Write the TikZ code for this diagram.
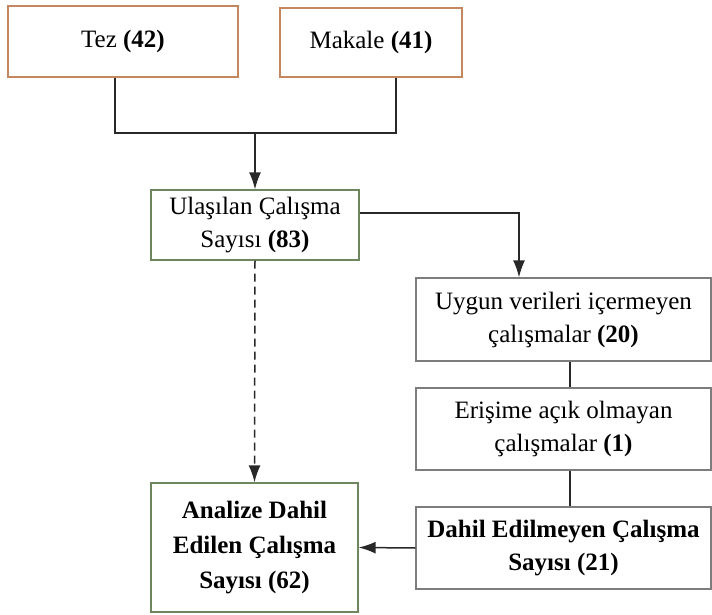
\documentclass[tikz,border=0pt]{standalone}
\usepackage{fontspec}
\setmainfont{Liberation Serif}
\usetikzlibrary{arrows.meta}
\definecolor{orangeb}{RGB}{196,136,96}
\definecolor{greenb}{RGB}{110,135,95}
\definecolor{grayb}{RGB}{125,125,125}
\definecolor{lineC}{RGB}{40,40,40}
\begin{document}
\begin{tikzpicture}[x=1pt,y=-1pt,
  box/.style={draw, line width=1.3pt, fill=white, align=center, inner sep=2pt, font=\fontsize{25}{33}\selectfont},
  conn/.style={draw=lineC, line width=1.5pt},
  arr/.style={conn, -{Latex[length=17pt,width=12pt]}}]
\useasboundingbox (0,0) rectangle (712,615);
\node[box, draw=orangeb, minimum width=230pt, minimum height=71pt] (tez) at (123,41.5) {Tez \textbf{(42)}};
\node[box, draw=orangeb, minimum width=182pt, minimum height=69pt] (makale) at (371,42.5) {Makale \textbf{(41)}};
\node[box, draw=greenb, minimum width=208pt, minimum height=70pt] (ulas) at (255,225) {Ulaşılan Çalışma\\Sayısı \textbf{(83)}};
\node[box, draw=grayb, minimum width=295pt, minimum height=83pt] (uygun) at (563.5,319.5) {Uygun verileri içermeyen\\çalışmalar \textbf{(20)}};
\node[box, draw=grayb, minimum width=295pt, minimum height=82pt] (eris) at (563.5,429) {Erişime açık olmayan\\çalışmalar \textbf{(1)}};
\node[box, draw=grayb, minimum width=295pt, minimum height=82pt, font=\fontsize{25}{33}\selectfont\bfseries] (dahil) at (563.5,548) {Dahil Edilmeyen Çalışma\\Sayısı (21)};
\node[box, draw=greenb, minimum width=207pt, minimum height=129pt, font=\fontsize{25}{35}\selectfont\bfseries] (analize) at (254.5,547.5) {Analize Dahil\\Edilen Çalışma\\Sayısı (62)};
\coordinate (j) at (255,133);
\coordinate (tj) at (115,133);
\coordinate (mj) at (396,133);
\draw[conn] ([xshift=-8pt]tez.south) -- (tj) -- (mj) -- ([xshift=25pt]makale.south);
\draw[arr] (j) -- (ulas.north);
\draw[arr] ([yshift=12pt]ulas.east) -| ([xshift=-44.5pt]uygun.north);
\draw[conn] ([xshift=6.5pt]uygun.south) -- ([xshift=6.5pt]eris.north);
\draw[conn] ([xshift=6.5pt]eris.south) -- ([xshift=6.5pt]dahil.north);
\draw[arr] (dahil.west) -- (analize.east);
\draw[arr, dash pattern=on 8pt off 5pt] (ulas.south) -- (analize.north);
\end{tikzpicture}
\end{document}
